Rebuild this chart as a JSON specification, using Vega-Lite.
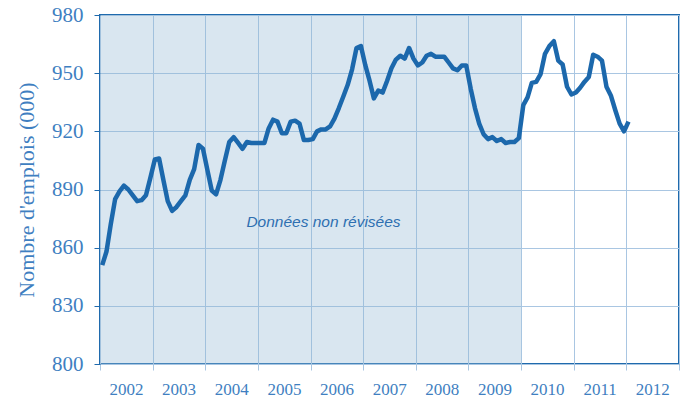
{
  "$schema": "https://vega.github.io/schema/vega-lite/v6.json",
  "autosize": {"type": "none"},
  "padding": {"left": 100, "top": 15, "right": 9, "bottom": 36},
  "width": 579,
  "height": 349,
  "background": "white",
  "config": {
    "view": {"stroke": "#1f6aad", "strokeWidth": 2},
    "font": "Liberation Serif"
  },
  "datasets": {
    "emplois": [
      {"m": "2002-01", "v": 851}, {"m": "2002-02", "v": 858}, {"m": "2002-03", "v": 872}, {"m": "2002-04", "v": 885},
      {"m": "2002-05", "v": 889}, {"m": "2002-06", "v": 892}, {"m": "2002-07", "v": 890}, {"m": "2002-08", "v": 887},
      {"m": "2002-09", "v": 884}, {"m": "2002-10", "v": 884.5}, {"m": "2002-11", "v": 887}, {"m": "2002-12", "v": 896},
      {"m": "2003-01", "v": 905.5}, {"m": "2003-02", "v": 906}, {"m": "2003-03", "v": 895}, {"m": "2003-04", "v": 884},
      {"m": "2003-05", "v": 879}, {"m": "2003-06", "v": 881}, {"m": "2003-07", "v": 884}, {"m": "2003-08", "v": 887},
      {"m": "2003-09", "v": 895}, {"m": "2003-10", "v": 900.5}, {"m": "2003-11", "v": 913}, {"m": "2003-12", "v": 911},
      {"m": "2004-01", "v": 900}, {"m": "2004-02", "v": 889.5}, {"m": "2004-03", "v": 887.5}, {"m": "2004-04", "v": 895},
      {"m": "2004-05", "v": 905}, {"m": "2004-06", "v": 914.5}, {"m": "2004-07", "v": 917}, {"m": "2004-08", "v": 914},
      {"m": "2004-09", "v": 911}, {"m": "2004-10", "v": 914.5}, {"m": "2004-11", "v": 914}, {"m": "2004-12", "v": 914},
      {"m": "2005-01", "v": 914}, {"m": "2005-02", "v": 914}, {"m": "2005-03", "v": 921.5}, {"m": "2005-04", "v": 926},
      {"m": "2005-05", "v": 925}, {"m": "2005-06", "v": 919}, {"m": "2005-07", "v": 919}, {"m": "2005-08", "v": 925},
      {"m": "2005-09", "v": 925.5}, {"m": "2005-10", "v": 924}, {"m": "2005-11", "v": 915.5}, {"m": "2005-12", "v": 915.5},
      {"m": "2006-01", "v": 916}, {"m": "2006-02", "v": 920}, {"m": "2006-03", "v": 921}, {"m": "2006-04", "v": 921},
      {"m": "2006-05", "v": 922.5}, {"m": "2006-06", "v": 926.5}, {"m": "2006-07", "v": 932}, {"m": "2006-08", "v": 938},
      {"m": "2006-09", "v": 944}, {"m": "2006-10", "v": 952}, {"m": "2006-11", "v": 963}, {"m": "2006-12", "v": 964},
      {"m": "2007-01", "v": 954}, {"m": "2007-02", "v": 946}, {"m": "2007-03", "v": 937}, {"m": "2007-04", "v": 941},
      {"m": "2007-05", "v": 940}, {"m": "2007-06", "v": 946}, {"m": "2007-07", "v": 952.5}, {"m": "2007-08", "v": 957},
      {"m": "2007-09", "v": 959}, {"m": "2007-10", "v": 957.5}, {"m": "2007-11", "v": 963}, {"m": "2007-12", "v": 957.5},
      {"m": "2008-01", "v": 954}, {"m": "2008-02", "v": 955.5}, {"m": "2008-03", "v": 959}, {"m": "2008-04", "v": 960},
      {"m": "2008-05", "v": 958.5}, {"m": "2008-06", "v": 958.5}, {"m": "2008-07", "v": 958.5}, {"m": "2008-08", "v": 955.5},
      {"m": "2008-09", "v": 952.5}, {"m": "2008-10", "v": 951.5}, {"m": "2008-11", "v": 954}, {"m": "2008-12", "v": 954},
      {"m": "2009-01", "v": 942}, {"m": "2009-02", "v": 932}, {"m": "2009-03", "v": 924}, {"m": "2009-04", "v": 918.5},
      {"m": "2009-05", "v": 916}, {"m": "2009-06", "v": 917}, {"m": "2009-07", "v": 915}, {"m": "2009-08", "v": 916},
      {"m": "2009-09", "v": 914}, {"m": "2009-10", "v": 914.5}, {"m": "2009-11", "v": 914.5}, {"m": "2009-12", "v": 916.5},
      {"m": "2010-01", "v": 933.5}, {"m": "2010-02", "v": 937.5}, {"m": "2010-03", "v": 945}, {"m": "2010-04", "v": 945.5},
      {"m": "2010-05", "v": 949.5}, {"m": "2010-06", "v": 960}, {"m": "2010-07", "v": 964}, {"m": "2010-08", "v": 966.5},
      {"m": "2010-09", "v": 956.5}, {"m": "2010-10", "v": 954.5}, {"m": "2010-11", "v": 943}, {"m": "2010-12", "v": 939},
      {"m": "2011-01", "v": 940}, {"m": "2011-02", "v": 942.5}, {"m": "2011-03", "v": 945.5}, {"m": "2011-04", "v": 948},
      {"m": "2011-05", "v": 959.5}, {"m": "2011-06", "v": 958.5}, {"m": "2011-07", "v": 956.5}, {"m": "2011-08", "v": 943},
      {"m": "2011-09", "v": 938.5}, {"m": "2011-10", "v": 931}, {"m": "2011-11", "v": 924}, {"m": "2011-12", "v": 920},
      {"m": "2012-01", "v": 925}
    ]
  },
  "layer": [
    {
      "data": {"values": [{"start": "2002-01", "end": "2010-01", "lo": 800, "hi": 980}]},
      "mark": {"type": "rect", "fill": "#92b8d4", "opacity": 0.35},
      "encoding": {
        "x": {
          "field": "start", "type": "temporal",
          "scale": {"type": "utc", "domain": [{"year": 2002, "month": 1, "date": 1, "utc": true}, {"year": 2013, "month": 1, "date": 1, "utc": true}]},
          "axis": {
            "title": null,
            "values": [
              {"year": 2002, "utc": true}, {"year": 2003, "utc": true}, {"year": 2004, "utc": true}, {"year": 2005, "utc": true},
              {"year": 2006, "utc": true}, {"year": 2007, "utc": true}, {"year": 2008, "utc": true}, {"year": 2009, "utc": true},
              {"year": 2010, "utc": true}, {"year": 2011, "utc": true}, {"year": 2012, "utc": true}, {"year": 2013, "utc": true}
            ],
            "labelExpr": "utcyear(datum.value) > 2012 ? '' : utcFormat(datum.value, '%Y')",
            "labelOffset": 26,
            "labelAlign": "center",
            "labelPadding": 11,
            "labelFont": "Liberation Serif",
            "labelFontSize": 17,
            "labelColor": "#3f7fc1",
            "labelFlush": false,
            "labelOverlap": false,
            "domain": false,
            "ticks": true,
            "tickSize": 6,
            "tickColor": "#a9c6e2",
            "grid": true,
            "gridColor": "#a9c6e2",
            "gridWidth": 1
          }
        },
        "x2": {"field": "end"},
        "y": {
          "field": "lo", "type": "quantitative",
          "scale": {"domain": [800, 980], "nice": false, "zero": false},
          "axis": {
            "title": "Nombre d'emplois (000)",
            "titleFont": "Liberation Serif",
            "titleFontSize": 22,
            "titleFontWeight": "normal",
            "titleColor": "#3f7fc1",
            "titlePadding": 13,
            "values": [800, 830, 860, 890, 920, 950, 980],
            "labelFont": "Liberation Serif",
            "labelFontSize": 21,
            "labelColor": "#3f7fc1",
            "labelPadding": 11,
            "labelFlush": false,
            "labelOverlap": false,
            "domain": false,
            "tickSize": 6,
            "tickColor": "#1f6aad",
            "grid": true,
            "gridColor": "#a9c6e2",
            "gridWidth": 1
          }
        },
        "y2": {"field": "hi"}
      }
    },
    {
      "data": {"name": "emplois"},
      "mark": {"type": "line", "color": "#1c68ac", "strokeWidth": 4.5, "strokeJoin": "round"},
      "encoding": {
        "x": {"field": "m", "type": "temporal", "timeUnit": "utcyearmonth", "bandPosition": 0.5},
        "y": {"field": "v", "type": "quantitative"}
      }
    },
    {
      "data": {"values": [{"m": "2006-04", "v": 873, "label": "Données non révisées"}]},
      "mark": {"type": "text", "font": "Liberation Sans", "fontStyle": "italic", "fontSize": 15.5, "color": "#2e6fb0", "align": "center", "baseline": "middle"},
      "encoding": {
        "x": {"field": "m", "type": "temporal"},
        "y": {"field": "v", "type": "quantitative"},
        "text": {"field": "label"}
      }
    }
  ]
}
